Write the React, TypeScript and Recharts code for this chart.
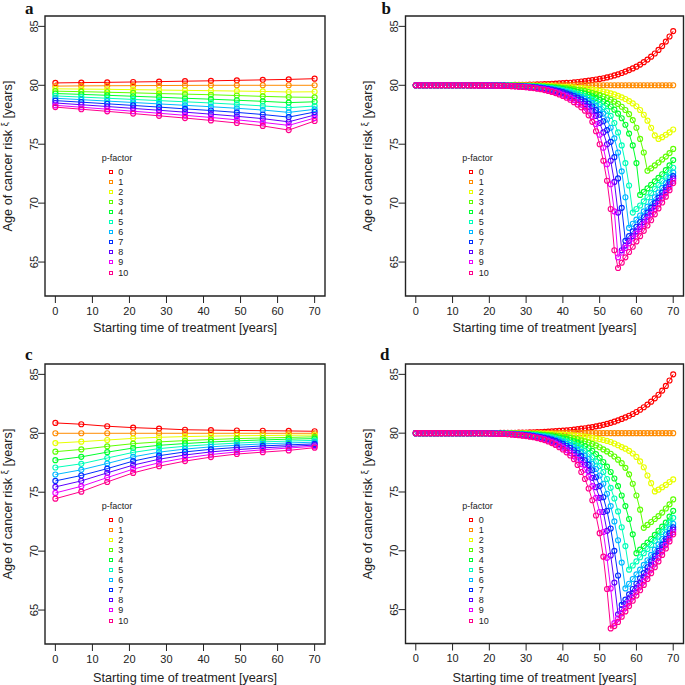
import React from "react";
import { LineChart, Line, XAxis, YAxis, ReferenceArea, Legend } from "recharts";

const FONT = '"Liberation Sans", Arial, Helvetica, sans-serif';
const INK = "#222";

// p-factor labels and colours (R rainbow(11))
const pLabels = ["0", "1", "2", "3", "4", "5", "6", "7", "8", "9", "10"];
const pColors = ["#FF0000", "#FF8B00", "#E8FF00", "#5DFF00", "#00FF2E", "#00FFB9", "#00B9FF", "#002EFF", "#5D00FF", "#E800FF", "#FF008B"];

const xTicks = [0, 10, 20, 30, 40, 50, 60, 70];
const yTicks = [65, 70, 75, 80, 85];

// starting times, panels a and c (every 7 years)
const startCoarse = [0, 7, 14, 21, 28, 35, 42, 49, 56, 63, 70];
// starting times, panels b and d (every year)
const startFine = [
  0, 1, 2, 3, 4, 5, 6, 7, 8, 9,
  10, 11, 12, 13, 14, 15, 16, 17, 18, 19,
  20, 21, 22, 23, 24, 25, 26, 27, 28, 29,
  30, 31, 32, 33, 34, 35, 36, 37, 38, 39,
  40, 41, 42, 43, 44, 45, 46, 47, 48, 49,
  50, 51, 52, 53, 54, 55, 56, 57, 58, 59,
  60, 61, 62, 63, 64, 65, 66, 67, 68, 69,
  70,
];

// ---- panel a ----
const aP0 = [80.2, 80.23, 80.25, 80.28, 80.31, 80.35, 80.38, 80.42, 80.46, 80.5, 80.56];
const aP1 = [79.93, 79.95, 79.96, 79.97, 79.98, 79.99, 80, 80, 80, 80, 80];
const aP2 = [79.7, 79.68, 79.66, 79.63, 79.6, 79.57, 79.54, 79.51, 79.48, 79.43, 79.45];
const aP3 = [79.5, 79.46, 79.41, 79.36, 79.3, 79.25, 79.2, 79.13, 79.06, 79.0, 78.98];
const aP4 = [79.3, 79.23, 79.15, 79.07, 78.99, 78.9, 78.82, 78.73, 78.64, 78.53, 78.6];
const aP5 = [79.1, 79.0, 78.9, 78.8, 78.7, 78.6, 78.5, 78.38, 78.25, 78.1, 78.24];
const aP6 = [78.9, 78.78, 78.66, 78.54, 78.42, 78.3, 78.18, 78.05, 77.9, 77.7, 77.96];
const aP7 = [78.7, 78.57, 78.43, 78.29, 78.15, 78.0, 77.86, 77.7, 77.52, 77.3, 77.73];
const aP8 = [78.5, 78.35, 78.2, 78.04, 77.88, 77.72, 77.55, 77.37, 77.17, 76.9, 77.48];
const aP9 = [78.3, 78.14, 77.97, 77.8, 77.63, 77.45, 77.27, 77.07, 76.85, 76.6, 77.22];
const aP10 = [78.15, 77.97, 77.79, 77.6, 77.41, 77.22, 77.02, 76.8, 76.55, 76.2, 76.97];

// ---- panel c ----
const cP0 = [80.88, 80.77, 80.6, 80.48, 80.4, 80.3, 80.27, 80.24, 80.22, 80.2, 80.17];
const cP1 = [80, 80, 80, 80, 80, 80, 80, 80, 80, 80, 80];
const cP2 = [79.17, 79.29, 79.43, 79.57, 79.66, 79.72, 79.76, 79.79, 79.81, 79.83, 79.85];
const cP3 = [78.44, 78.63, 78.89, 79.12, 79.27, 79.38, 79.47, 79.55, 79.6, 79.65, 79.7];
const cP4 = [77.72, 78.0, 78.4, 78.75, 78.98, 79.13, 79.26, 79.36, 79.44, 79.5, 79.55];
const cP5 = [77.1, 77.41, 77.9, 78.38, 78.7, 78.9, 79.05, 79.17, 79.27, 79.34, 79.4];
const cP6 = [76.5, 76.9, 77.44, 78.0, 78.4, 78.66, 78.85, 78.99, 79.1, 79.18, 79.25];
const cP7 = [75.96, 76.42, 77.0, 77.64, 78.1, 78.42, 78.64, 78.8, 78.93, 79.02, 79.1];
const cP8 = [75.45, 75.96, 76.64, 77.3, 77.8, 78.16, 78.42, 78.61, 78.76, 78.88, 79.0];
const cP9 = [74.94, 75.5, 76.24, 76.96, 77.5, 77.9, 78.2, 78.42, 78.6, 78.75, 78.9];
const cP10 = [74.45, 75.05, 75.87, 76.64, 77.2, 77.64, 77.98, 78.24, 78.4, 78.55, 78.78];

// ---- panel b ----
const bP0 = [
  80, 80, 80, 80, 80, 80, 80, 80, 80, 80,
  80, 80, 80, 80, 80, 80, 80, 80, 80, 80,
  80, 80.01, 80.01, 80.01, 80.02, 80.02, 80.02, 80.03, 80.03, 80.04,
  80.05, 80.06, 80.07, 80.08, 80.09, 80.1, 80.11, 80.13, 80.14, 80.16,
  80.18, 80.2, 80.22, 80.25, 80.28, 80.32, 80.35, 80.39, 80.44, 80.49,
  80.54, 80.6, 80.67, 80.75, 80.84, 80.93, 81.04, 81.16, 81.29, 81.43,
  81.58, 81.76, 81.96, 82.18, 82.43, 82.7, 83.0, 83.33, 83.71, 84.14,
  84.6,
];
const bP1 = [
  80, 80, 80, 80, 80, 80, 80, 80, 80, 80,
  80, 80, 80, 80, 80, 80, 80, 80, 80, 80,
  80, 80, 80, 80, 80, 80, 80, 80, 80, 80,
  80, 80, 80, 80, 80, 80, 80, 80, 80, 80,
  80, 80, 80, 80, 80, 80, 80, 80, 80, 80,
  80, 80, 80, 80, 80, 80, 80, 80, 80, 80,
  80, 80, 80, 80, 80, 80, 80, 80, 80, 80,
  80,
];
const bP2 = [
  80, 80, 80, 80, 80, 80, 80, 80, 80, 80,
  80, 80, 80, 80, 80, 80, 80, 80, 80, 80,
  80, 80, 80, 80, 80, 79.99, 79.99, 79.99, 79.99, 79.99,
  79.98, 79.97, 79.97, 79.96, 79.96, 79.95, 79.94, 79.93, 79.92, 79.9,
  79.88, 79.86, 79.84, 79.82, 79.79, 79.76, 79.73, 79.69, 79.64, 79.59,
  79.53, 79.47, 79.4, 79.32, 79.23, 79.1, 78.98, 78.84, 78.66, 78.46,
  78.22, 77.9, 77.5, 77.0, 76.4, 75.75, 75.45, 75.6, 75.8, 76.0,
  76.25,
];
const bP3 = [
  80, 80, 80, 80, 80, 80, 80, 80, 80, 80,
  80, 80, 80, 80, 80, 80, 80, 80, 80, 80,
  80, 80, 79.99, 79.99, 79.99, 79.99, 79.99, 79.99, 79.98, 79.97,
  79.96, 79.95, 79.94, 79.93, 79.92, 79.91, 79.89, 79.87, 79.85, 79.82,
  79.79, 79.76, 79.72, 79.67, 79.62, 79.57, 79.5, 79.43, 79.35, 79.26,
  79.16, 79.05, 78.92, 78.78, 78.62, 78.42, 78.18, 77.9, 77.55, 77.05,
  76.4, 75.45, 74.3, 72.75, 72.95, 73.2, 73.45, 73.7, 73.95, 74.25,
  74.6,
];
const bP4 = [
  80, 80, 80, 80, 80, 80, 80, 80, 80, 80,
  80, 80, 80, 80, 80, 80, 80, 80, 80, 80,
  80, 79.99, 79.99, 79.99, 79.98, 79.98, 79.97, 79.97, 79.96, 79.95,
  79.94, 79.93, 79.92, 79.9, 79.89, 79.86, 79.84, 79.81, 79.78, 79.74,
  79.7, 79.65, 79.59, 79.52, 79.45, 79.38, 79.29, 79.18, 79.06, 78.93,
  78.79, 78.62, 78.43, 78.2, 77.93, 77.6, 77.2, 76.65, 75.9, 74.9,
  73.4, 70.7, 70.95, 71.25, 71.55, 71.85, 72.15, 72.45, 72.8, 73.2,
  73.65,
];
const bP5 = [
  80, 80, 80, 80, 80, 80, 80, 80, 80, 80,
  80, 80, 80, 80, 80, 80, 80, 80, 80, 80,
  79.99, 79.99, 79.99, 79.99, 79.99, 79.99, 79.97, 79.96, 79.95, 79.94,
  79.93, 79.91, 79.89, 79.87, 79.85, 79.82, 79.79, 79.76, 79.71, 79.66,
  79.6, 79.54, 79.46, 79.38, 79.29, 79.18, 79.07, 78.93, 78.78, 78.6,
  78.4, 78.15, 77.83, 77.4, 76.8, 76.0, 74.9, 73.4, 71.5, 69.2,
  69.5, 69.8, 70.15, 70.5, 70.85, 71.2, 71.55, 71.9, 72.25, 72.6,
  73.0,
];
const bP6 = [
  80, 80, 80, 80, 80, 80, 80, 80, 80, 80,
  80, 80, 80, 80, 80, 80, 80, 80, 80, 79.99,
  79.99, 79.99, 79.99, 79.99, 79.98, 79.97, 79.96, 79.95, 79.94, 79.92,
  79.91, 79.89, 79.87, 79.84, 79.82, 79.78, 79.74, 79.7, 79.64, 79.58,
  79.51, 79.43, 79.34, 79.23, 79.12, 78.99, 78.85, 78.68, 78.49, 78.26,
  77.98, 77.6, 77.1, 76.4, 75.5, 74.3, 72.7, 70.5, 67.9, 68.25,
  68.6, 68.95, 69.3, 69.7, 70.1, 70.5, 70.9, 71.3, 71.7, 72.15,
  72.6,
];
const bP7 = [
  80, 80, 80, 80, 80, 80, 80, 80, 80, 80,
  80, 80, 80, 80, 80, 80, 80, 80, 79.99, 79.99,
  79.99, 79.99, 79.99, 79.98, 79.97, 79.96, 79.95, 79.94, 79.93, 79.91,
  79.89, 79.87, 79.85, 79.82, 79.78, 79.74, 79.7, 79.64, 79.58, 79.5,
  79.42, 79.32, 79.21, 79.09, 78.95, 78.8, 78.63, 78.43, 78.2, 77.9,
  77.5, 76.95, 76.2, 75.2, 73.9, 72.1, 69.6, 66.8, 67.2, 67.6,
  68.0, 68.4, 68.8, 69.2, 69.6, 70.0, 70.45, 70.9, 71.35, 71.8,
  72.3,
];
const bP8 = [
  80, 80, 80, 80, 80, 80, 80, 80, 80, 80,
  80, 80, 80, 80, 80, 80, 80, 79.99, 79.99, 79.99,
  79.99, 79.98, 79.98, 79.97, 79.97, 79.95, 79.94, 79.93, 79.91, 79.9,
  79.87, 79.85, 79.82, 79.79, 79.74, 79.7, 79.65, 79.58, 79.51, 79.42,
  79.32, 79.21, 79.08, 78.94, 78.78, 78.61, 78.4, 78.17, 77.85, 77.4,
  76.8, 76.0, 75.0, 73.6, 71.8, 69.2, 66.0, 66.4, 66.8, 67.2,
  67.6, 68.0, 68.4, 68.85, 69.3, 69.75, 70.2, 70.65, 71.1, 71.6,
  72.1,
];
const bP9 = [
  80, 80, 80, 80, 80, 80, 80, 80, 80, 80,
  80, 80, 80, 80, 80, 80, 79.99, 79.99, 79.99, 79.99,
  79.99, 79.98, 79.97, 79.97, 79.96, 79.95, 79.93, 79.92, 79.9, 79.88,
  79.85, 79.82, 79.79, 79.75, 79.7, 79.65, 79.59, 79.51, 79.42, 79.32,
  79.2, 79.08, 78.93, 78.76, 78.57, 78.37, 78.13, 77.8, 77.35, 76.7,
  75.8, 74.7, 73.3, 71.6, 69.3, 65.4, 65.8, 66.2, 66.6, 67.0,
  67.4, 67.8, 68.2, 68.6, 69.05, 69.5, 69.95, 70.4, 70.85, 71.35,
  71.9,
];
const bP10 = [
  80, 80, 80, 80, 80, 80, 80, 80, 80, 80,
  80, 80, 80, 80, 80, 79.99, 79.99, 79.99, 79.99, 79.98,
  79.98, 79.98, 79.97, 79.96, 79.95, 79.94, 79.92, 79.91, 79.88, 79.86,
  79.83, 79.8, 79.76, 79.71, 79.66, 79.59, 79.52, 79.44, 79.34, 79.22,
  79.09, 78.94, 78.77, 78.57, 78.36, 78.13, 77.85, 77.45, 76.9, 76.1,
  75.0, 73.6, 71.9, 69.5, 66.0, 64.5, 64.95, 65.4, 65.85, 66.3,
  66.75, 67.2, 67.65, 68.1, 68.55, 69.05, 69.55, 70.05, 70.55, 71.1,
  71.7,
];

// ---- panel d ----
const dP0 = [
  80, 80, 80, 80, 80, 80, 80, 80, 80, 80,
  80, 80, 80, 80, 80, 80, 80, 80, 80, 80,
  80.01, 80.01, 80.01, 80.02, 80.02, 80.02, 80.03, 80.03, 80.04, 80.05,
  80.06, 80.07, 80.08, 80.09, 80.1, 80.11, 80.13, 80.15, 80.17, 80.19,
  80.21, 80.24, 80.27, 80.3, 80.34, 80.38, 80.42, 80.47, 80.52, 80.58,
  80.64, 80.71, 80.79, 80.88, 80.98, 81.09, 81.21, 81.34, 81.48, 81.63,
  81.8, 81.99, 82.2, 82.43, 82.68, 82.96, 83.27, 83.62, 84.02, 84.48,
  85.0,
];
const dP1 = [
  80, 80, 80, 80, 80, 80, 80, 80, 80, 80,
  80, 80, 80, 80, 80, 80, 80, 80, 80, 80,
  80, 80, 80, 80, 80, 80, 80, 80, 80, 80,
  80, 80, 80, 80, 80, 80, 80, 80, 80, 80,
  80, 80, 80, 80, 80, 80, 80, 80, 80, 80,
  80, 80, 80, 80, 80, 80, 80, 80, 80, 80,
  80, 80, 80, 80, 80, 80, 80, 80, 80, 80,
  80,
];
const dP2 = [
  80, 80, 80, 80, 80, 80, 80, 80, 80, 80,
  80, 80, 80, 80, 80, 80, 80, 80, 80, 80,
  80, 80, 80, 80, 80, 79.99, 79.99, 79.99, 79.99, 79.98,
  79.98, 79.97, 79.97, 79.96, 79.96, 79.95, 79.94, 79.93, 79.91, 79.9,
  79.88, 79.86, 79.83, 79.81, 79.78, 79.74, 79.7, 79.66, 79.61, 79.55,
  79.49, 79.42, 79.34, 79.25, 79.12, 78.97, 78.82, 78.68, 78.5, 78.27,
  77.98, 77.6, 77.1, 76.4, 75.75, 75.05, 75.2, 75.4, 75.6, 75.85,
  76.07,
];
const dP3 = [
  80, 80, 80, 80, 80, 80, 80, 80, 80, 80,
  80, 80, 80, 80, 80, 80, 80, 80, 80, 80,
  80, 79.99, 79.99, 79.99, 79.99, 79.99, 79.98, 79.97, 79.97, 79.96,
  79.95, 79.94, 79.93, 79.91, 79.9, 79.88, 79.86, 79.83, 79.8, 79.76,
  79.72, 79.67, 79.62, 79.55, 79.48, 79.4, 79.31, 79.21, 79.09, 78.96,
  78.8, 78.62, 78.45, 78.25, 78.02, 77.75, 77.45, 77.05, 76.5, 75.7,
  74.7, 73.5, 71.95, 72.2, 72.45, 72.7, 72.95, 73.25, 73.6, 73.95,
  74.37,
];
const dP4 = [
  80, 80, 80, 80, 80, 80, 80, 80, 80, 80,
  80, 80, 80, 80, 80, 80, 80, 80, 80, 80,
  79.99, 79.99, 79.99, 79.99, 79.98, 79.97, 79.96, 79.96, 79.95, 79.94,
  79.92, 79.91, 79.89, 79.87, 79.84, 79.81, 79.78, 79.73, 79.68, 79.63,
  79.56, 79.49, 79.4, 79.3, 79.19, 79.06, 78.9, 78.72, 78.5, 78.22,
  77.9, 77.55, 77.15, 76.7, 76.15, 75.5, 74.7, 73.8, 72.7, 71.4,
  69.8, 70.1, 70.4, 70.7, 71.0, 71.35, 71.7, 72.05, 72.4, 72.9,
  73.4,
];
const dP5 = [
  80, 80, 80, 80, 80, 80, 80, 80, 80, 80,
  80, 80, 80, 80, 80, 80, 80, 80, 80, 79.99,
  79.99, 79.99, 79.99, 79.98, 79.97, 79.96, 79.95, 79.94, 79.93, 79.91,
  79.89, 79.87, 79.85, 79.82, 79.78, 79.75, 79.7, 79.64, 79.57, 79.49,
  79.4, 79.3, 79.18, 79.05, 78.9, 78.73, 78.5, 78.25, 77.95, 77.6,
  77.2, 76.7, 76.1, 75.35, 74.45, 73.35, 72.0, 70.4, 68.4, 68.75,
  69.1, 69.45, 69.8, 70.15, 70.5, 70.85, 71.2, 71.6, 72.0, 72.4,
  72.8,
];
const dP6 = [
  80, 80, 80, 80, 80, 80, 80, 80, 80, 80,
  80, 80, 80, 80, 80, 80, 80, 80, 79.99, 79.99,
  79.99, 79.99, 79.98, 79.97, 79.96, 79.95, 79.94, 79.93, 79.91, 79.89,
  79.86, 79.84, 79.81, 79.77, 79.73, 79.68, 79.62, 79.54, 79.45, 79.36,
  79.24, 79.11, 78.96, 78.8, 78.6, 78.39, 78.1, 77.8, 77.4, 76.95,
  76.4, 75.7, 74.85, 73.8, 72.5, 70.9, 69.0, 66.8, 67.2, 67.6,
  68.0, 68.4, 68.8, 69.2, 69.65, 70.1, 70.55, 71.0, 71.4, 71.85,
  72.3,
];
const dP7 = [
  80, 80, 80, 80, 80, 80, 80, 80, 80, 80,
  80, 80, 80, 80, 80, 80, 80, 79.99, 79.99, 79.99,
  79.99, 79.98, 79.97, 79.96, 79.96, 79.94, 79.93, 79.91, 79.89, 79.87,
  79.84, 79.81, 79.77, 79.72, 79.67, 79.61, 79.54, 79.45, 79.34, 79.22,
  79.09, 78.93, 78.75, 78.55, 78.31, 78.05, 77.7, 77.3, 76.85, 76.25,
  75.5, 74.55, 73.4, 71.9, 70.0, 67.9, 65.4, 65.85, 66.3, 66.75,
  67.2, 67.65, 68.1, 68.6, 69.1, 69.55, 70.0, 70.5, 71.0, 71.5,
  72.0,
];
const dP8 = [
  80, 80, 80, 80, 80, 80, 80, 80, 80, 80,
  80, 80, 80, 80, 80, 80, 79.99, 79.99, 79.99, 79.99,
  79.98, 79.97, 79.96, 79.96, 79.95, 79.93, 79.91, 79.89, 79.87, 79.84,
  79.81, 79.77, 79.73, 79.67, 79.61, 79.54, 79.45, 79.35, 79.23, 79.08,
  78.93, 78.74, 78.53, 78.29, 78.02, 77.71, 77.3, 76.8, 76.2, 75.4,
  74.5, 73.3, 71.7, 69.6, 67.3, 64.6, 65.05, 65.5, 65.95, 66.4,
  66.85, 67.3, 67.8, 68.3, 68.8, 69.3, 69.8, 70.3, 70.8, 71.3,
  71.8,
];
const dP9 = [
  80, 80, 80, 80, 80, 80, 80, 80, 80, 80,
  80, 80, 80, 80, 80, 79.99, 79.99, 79.99, 79.99, 79.99,
  79.98, 79.97, 79.96, 79.95, 79.94, 79.92, 79.9, 79.88, 79.85, 79.82,
  79.78, 79.74, 79.69, 79.63, 79.56, 79.47, 79.37, 79.25, 79.11, 78.95,
  78.77, 78.56, 78.31, 78.04, 77.73, 77.37, 76.9, 76.3, 75.5, 74.5,
  73.3, 71.6, 69.4, 66.8, 63.85, 64.25, 64.7, 65.15, 65.6, 66.05,
  66.5, 66.95, 67.4, 67.9, 68.4, 68.9, 69.4, 69.95, 70.5, 71.05,
  71.6,
];
const dP10 = [
  80, 80, 80, 80, 80, 80, 80, 80, 80, 80,
  80, 80, 80, 80, 80, 79.99, 79.99, 79.99, 79.99, 79.99,
  79.98, 79.97, 79.95, 79.94, 79.93, 79.91, 79.89, 79.86, 79.83, 79.79,
  79.75, 79.7, 79.65, 79.58, 79.5, 79.41, 79.29, 79.16, 79.0, 78.81,
  78.61, 78.37, 78.1, 77.79, 77.3, 76.7, 76.1, 75.3, 74.3, 73.0,
  71.5, 69.5, 66.75, 63.4, 63.6, 63.95, 64.4, 64.85, 65.3, 65.75,
  66.2, 66.65, 67.1, 67.6, 68.1, 68.6, 69.1, 69.65, 70.2, 70.8,
  71.4,
];

function buildRows(xs: number[], series: number[][]) {
  return xs.map((x, i) => {
    const row: Record<string, number> = { x };
    series.forEach((s, k) => {
      row[`p${k}`] = s[i];
    });
    return row;
  });
}

const rowsA = buildRows(startCoarse, [aP0, aP1, aP2, aP3, aP4, aP5, aP6, aP7, aP8, aP9, aP10]);
const rowsB = buildRows(startFine, [bP0, bP1, bP2, bP3, bP4, bP5, bP6, bP7, bP8, bP9, bP10]);
const rowsC = buildRows(startCoarse, [cP0, cP1, cP2, cP3, cP4, cP5, cP6, cP7, cP8, cP9, cP10]);
const rowsD = buildRows(startFine, [dP0, dP1, dP2, dP3, dP4, dP5, dP6, dP7, dP8, dP9, dP10]);

const X_DOMAIN: [number, number] = [-2.8, 72.8];
const Y_DOMAIN: [number, number] = [62.12, 85.88];

const XTick = (props: any) => {
  const { x, y, payload } = props;
  return (
    <text x={x} y={y} dy="0.71em" textAnchor="middle" fontSize={11} fill={INK} fontFamily={FONT}>
      {payload.value}
    </text>
  );
};

const YTick = (props: any) => {
  const { x, y, payload } = props;
  return (
    <text x={x} y={y} textAnchor="middle" fontSize={11} fill={INK} fontFamily={FONT} transform={`rotate(-90, ${x}, ${y})`}>
      {payload.value}
    </text>
  );
};

const renderLegend = (props: any) => {
  // keep numeric order 0..10 (Recharts sorts the payload as strings)
  const items = [...(props.payload || [])].sort((a: any, b: any) => Number(a.value) - Number(b.value));
  return (
    <div style={{ fontFamily: FONT, fontSize: 9, color: INK, lineHeight: "12px", textAlign: "left" }}>
      <div style={{ paddingLeft: 1.7, height: 12 }}>p-factor</div>
      <div style={{ marginTop: 2.6 }}>
        {items.map((entry: any) => (
          <div key={entry.value} style={{ position: "relative", height: 10.1, lineHeight: "10.1px" }}>
            <span
              style={{
                position: "absolute",
                left: 8.7,
                top: 3.05,
                width: 4,
                height: 4,
                border: `1.1px solid ${entry.color}`,
                boxSizing: "border-box",
              }}
            />
            <span style={{ position: "absolute", left: 18.3, top: 0 }}>{entry.value}</span>
          </div>
        ))}
      </div>
    </div>
  );
};

type Box = { l: number; r: number; t: number; b: number };

function Panel({ rows, w, h, box }: { rows: Record<string, number>[]; w: number; h: number; box: Box }) {
  return (
    <LineChart width={w} height={h} data={rows} margin={{ top: box.t, right: w - box.r, bottom: 0, left: 0 }}>
      <XAxis
        type="number"
        dataKey="x"
        domain={X_DOMAIN}
        ticks={xTicks}
        interval={0}
        allowDataOverflow
        height={h - box.b}
        axisLine={false}
        tickLine={{ stroke: INK }}
        tickSize={7}
        tickMargin={4}
        tick={XTick}
      />
      <YAxis
        type="number"
        domain={Y_DOMAIN}
        ticks={yTicks}
        interval={0}
        allowDataOverflow
        width={box.l}
        axisLine={false}
        tickLine={{ stroke: INK }}
        tickSize={7}
        tickMargin={0}
        tick={YTick}
      />
      {pLabels.map((label, k) => (
        <Line
          key={label}
          type="linear"
          dataKey={`p${k}`}
          name={label}
          stroke={pColors[k]}
          strokeWidth={1}
          dot={{ r: 2.5, stroke: pColors[k], strokeWidth: 1.15, fill: "none" }}
          activeDot={false}
          isAnimationActive={false}
        />
      ))}
      <ReferenceArea
        x1={X_DOMAIN[0]}
        x2={X_DOMAIN[1]}
        y1={Y_DOMAIN[0]}
        y2={Y_DOMAIN[1]}
        fill="none"
        fillOpacity={0}
        stroke={INK}
        strokeWidth={1.4}
        ifOverflow="visible"
      />
      <Legend
        layout="vertical"
        align="center"
        verticalAlign="middle"
        content={renderLegend}
        wrapperStyle={{ left: box.l + 55, top: box.t + 136, width: 40 }}
      />
    </LineChart>
  );
}

function YTitle({ x, y }: { x: number; y: number }) {
  return (
    <text transform={`translate(${x},${y}) rotate(-90)`} textAnchor="middle" fontSize={12.7} fill={INK} fontFamily={FONT}>
      Age of cancer risk{" "}
      <tspan fontSize={9.5} dy={-3.5}>
        ξ
      </tspan>
      <tspan dy={3.5}> [years]</tspan>
    </text>
  );
}

function XTitle({ x, y }: { x: number; y: number }) {
  return (
    <text x={x} y={y} textAnchor="middle" fontSize={12.7} fill={INK} fontFamily={FONT}>
      Starting time of treatment [years]
    </text>
  );
}

function Letter({ x, y, children }: { x: number; y: number; children: string }) {
  return (
    <text x={x} y={y} fontSize={17} fontWeight="bold" fill="#111" fontFamily='"Liberation Serif", "Times New Roman", serif'>
      {children}
    </text>
  );
}

export default function App() {
  return (
    <div style={{ position: "absolute", left: 0, top: 0, width: 685, height: 685, background: "#fff", overflow: "hidden" }}>
      <div style={{ position: "absolute", left: 0, top: 0 }}>
        <Panel rows={rowsA} w={340} h={340} box={{ l: 45, r: 325, t: 16, b: 296 }} />
      </div>
      <div style={{ position: "absolute", left: 340, top: 0 }}>
        <Panel rows={rowsB} w={345} h={340} box={{ l: 65.5, r: 343.5, t: 16, b: 296 }} />
      </div>
      <div style={{ position: "absolute", left: 0, top: 340 }}>
        <Panel rows={rowsC} w={340} h={345} box={{ l: 45, r: 325, t: 24, b: 304 }} />
      </div>
      <div style={{ position: "absolute", left: 340, top: 340 }}>
        <Panel rows={rowsD} w={345} h={345} box={{ l: 65.5, r: 343.5, t: 24, b: 303.5 }} />
      </div>
      <svg width={685} height={685} style={{ position: "absolute", left: 0, top: 0, pointerEvents: "none" }}>
        <Letter x={25} y={13.5}>a</Letter>
        <Letter x={381.5} y={13.5}>b</Letter>
        <Letter x={25} y={360}>c</Letter>
        <Letter x={380} y={360}>d</Letter>
        <YTitle x={11.7} y={156} />
        <YTitle x={371.7} y={156} />
        <YTitle x={11.7} y={504} />
        <YTitle x={371.7} y={504} />
        <XTitle x={185} y={331.5} />
        <XTitle x={544.5} y={331.5} />
        <XTitle x={185} y={682} />
        <XTitle x={544.5} y={682} />
      </svg>
    </div>
  );
}
